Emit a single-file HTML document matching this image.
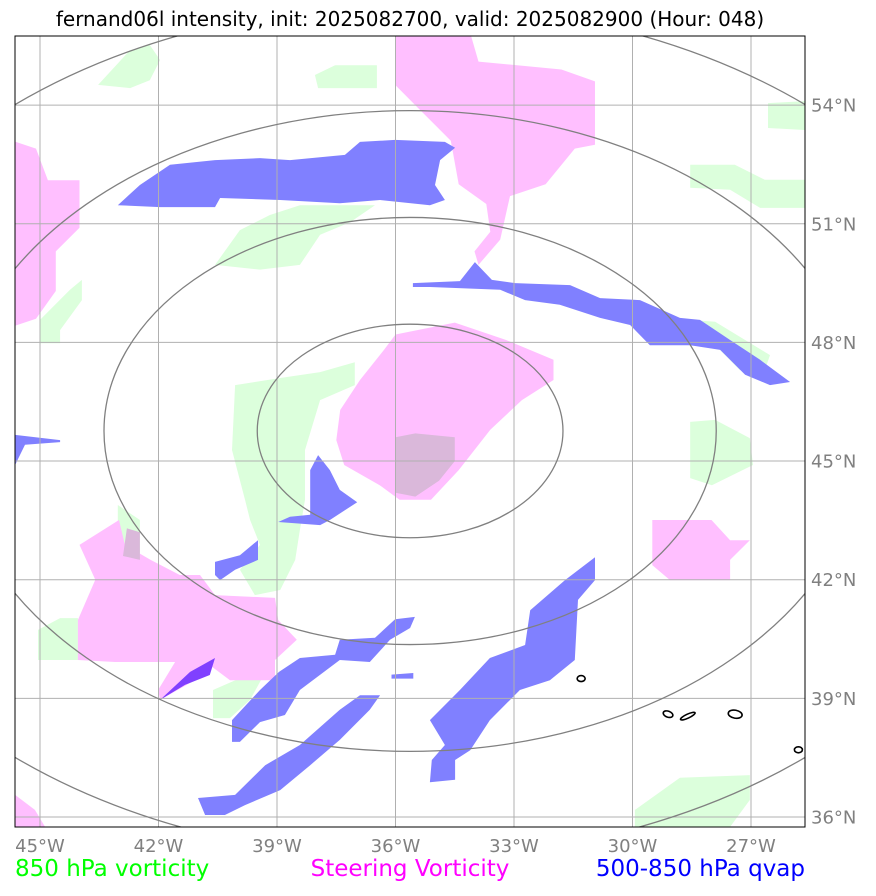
<!DOCTYPE html>
<html><head><meta charset="utf-8"><style>
body{margin:0;background:#fff;}
svg text{font-family:"DejaVu Sans","Liberation Sans",sans-serif;}
</style></head><body>
<svg id="chart" width="876" height="891" viewBox="0 0 876 891" xmlns="http://www.w3.org/2000/svg">
<rect width="876" height="891" fill="#fff"/>
<text x="410" y="26" font-size="20" text-anchor="middle" fill="#000">fernand06l intensity, init: 2025082700, valid: 2025082900 (Hour: 048)</text>
<defs><clipPath id="clip"><rect x="15" y="36" width="790" height="791"/></clipPath></defs>
<g id="layers" clip-path="url(#clip)"></g>
<rect x="15" y="36" width="790" height="791" fill="none" stroke="#000" stroke-width="1"/>
<g id="ticks"></g>
<text x="15" y="876" font-size="23" fill="#00ff00">850 hPa vorticity</text>
<text x="410" y="876" font-size="23" fill="#ff00ff" text-anchor="middle">Steering Vorticity</text>
<text x="805" y="876" font-size="23" fill="#0000ff" text-anchor="end">500-850 hPa qvap</text>
</svg>
<script>
const lonTicks=[-45,-42,-39,-36,-33,-30,-27];
const latTicks=[54,51,48,45,42,39,36];
const ringCenter=[-35.63,45.76];
const ringRadiiDeg=[[3.87,2.7],[7.75,5.4],[11.6,8.1],[15.5,10.8]];
const pinkPolys=[
[[-36.0,55.8],[-34.1,55.8],[-33.9,55.1],[-31.8,54.9],[-30.95,54.6],[-30.95,53.0],[-31.46,52.9],[-32.2,52.0],[-33.1,51.7],[-33.35,50.6],[-33.9,49.96],[-34.0,50.3],[-33.6,50.8],[-33.7,51.5],[-34.4,52.0],[-34.6,53.1],[-35.4,53.9],[-36.0,54.5]],
[[-45.7,53.1],[-45.1,52.9],[-44.8,52.1],[-44.0,52.1],[-44.0,50.9],[-44.6,50.3],[-44.6,49.3],[-45.1,48.6],[-45.7,48.4]],
[[-36.0,48.2],[-34.5,48.5],[-33.2,48.06],[-32.0,47.56],[-32.0,47.05],[-32.8,46.54],[-33.6,45.79],[-34.4,44.77],[-35.1,44.02],[-35.9,44.02],[-36.4,44.39],[-37.3,44.9],[-37.5,45.53],[-37.4,46.29],[-36.9,47.05],[-36.3,47.8]],
[[-44.0,42.88],[-43.0,43.51],[-42.85,42.88],[-42.2,42.5],[-41.46,42.12],[-40.95,42.12],[-40.57,41.61],[-39.05,41.54],[-38.97,40.98],[-38.5,40.48],[-39.05,39.97],[-39.05,39.46],[-40.19,39.46],[-40.7,39.84],[-41.08,39.46],[-41.96,38.96],[-42.01,39.21],[-41.58,39.92],[-43.1,39.92],[-44.04,39.97],[-44.04,40.98],[-43.6,42.0]],
[[-29.5,43.51],[-28.0,43.51],[-27.53,43.0],[-27.03,43.0],[-27.53,42.5],[-27.53,41.99],[-29.05,41.99],[-29.5,42.37]],
[[-45.63,36.56],[-45.13,36.18],[-44.87,35.75],[-45.63,35.75]]
];
const greenPolys=[
[[-43.53,54.51],[-42.72,55.39],[-42.22,55.52],[-41.96,55.14],[-42.22,54.63],[-42.72,54.43]],
[[-38.04,54.76],[-37.53,55.01],[-36.47,55.01],[-36.47,54.43],[-37.96,54.43]],
[[-26.57,54.05],[-25.63,54.1],[-25.63,53.37],[-26.57,53.42]],
[[-28.54,52.49],[-27.41,52.49],[-26.65,52.11],[-25.63,52.11],[-25.63,51.4],[-26.77,51.4],[-27.53,51.86],[-28.54,51.91]],
[[-40.57,49.96],[-39.94,50.84],[-39.18,51.22],[-38.42,51.47],[-36.52,51.47],[-37.15,51.04],[-37.91,50.72],[-38.42,49.96],[-39.43,49.84]],
[[-45.0,48.57],[-44.24,49.33],[-43.94,49.58],[-43.94,49.07],[-44.49,48.31],[-44.49,47.98],[-45.0,47.98]],
[[-40.06,46.92],[-38.92,47.1],[-37.91,47.25],[-37.03,47.5],[-37.03,46.92],[-37.91,46.54],[-38.29,45.28],[-38.29,44.02],[-38.42,43.26],[-38.54,42.5],[-38.92,41.74],[-39.56,41.61],[-39.94,42.25],[-39.43,42.88],[-39.68,43.51],[-39.81,44.02],[-40.14,45.28]],
[[-43.03,43.89],[-42.47,43.51],[-42.47,42.5],[-43.03,42.5]],
[[-45.05,40.73],[-44.49,41.03],[-44.04,41.03],[-44.04,39.97],[-45.05,39.97]],
[[-40.62,39.21],[-39.94,39.51],[-39.38,39.51],[-39.68,38.96],[-40.19,38.5],[-40.62,38.5]],
[[-28.54,45.99],[-27.91,46.04],[-27.03,45.58],[-26.95,44.9],[-27.99,44.39],[-28.54,44.57]],
[[-29.94,36.18],[-28.8,36.99],[-27.03,37.06],[-27.03,36.43],[-27.53,35.75],[-29.94,35.75]],
[[-28.54,48.57],[-27.91,48.52],[-26.52,47.68],[-26.65,47.3],[-27.28,47.3]]
];
const overlapPolys=[
[[-36.0,45.6],[-35.5,45.7],[-34.5,45.6],[-34.5,45.0],[-34.9,44.5],[-35.5,44.1],[-36.0,44.2]],
[[-42.8,43.3],[-42.47,43.2],[-42.47,42.5],[-42.9,42.6]]
];
const bluePolys=[
[[-43.03,51.47],[-42.47,51.98],[-41.71,52.49],[-40.57,52.61],[-39.43,52.66],[-38.67,52.61],[-37.28,52.74],[-36.9,53.07],[-36.01,53.12],[-34.75,53.07],[-34.49,52.92],[-34.87,52.61],[-35.0,51.98],[-34.75,51.6],[-35.13,51.47],[-36.39,51.6],[-37.41,51.52],[-38.92,51.6],[-40.44,51.65],[-40.57,51.42],[-41.96,51.42]],
[[-35.56,49.5],[-34.37,49.55],[-33.99,50.03],[-33.56,49.58],[-32.97,49.5],[-31.58,49.45],[-30.82,49.12],[-29.81,49.07],[-28.8,48.62],[-28.29,48.57],[-27.53,48.06],[-26.77,47.56],[-26.01,47.0],[-26.52,46.92],[-27.15,47.18],[-27.78,47.81],[-28.54,47.93],[-29.56,47.93],[-30.06,48.44],[-30.82,48.62],[-31.84,48.95],[-32.72,49.07],[-33.35,49.33],[-35.13,49.4],[-35.56,49.4]],
[[-38.16,44.77],[-37.96,45.15],[-37.66,44.77],[-37.41,44.27],[-36.97,43.96],[-37.66,43.51],[-37.91,43.38],[-38.97,43.46],[-38.67,43.59],[-38.16,43.64]],
[[-40.57,42.45],[-39.94,42.62],[-39.48,43.0],[-39.48,42.5],[-40.06,42.25],[-40.44,41.99],[-40.57,42.12]],
[[-30.95,42.57],[-30.95,41.99],[-31.38,41.49],[-31.46,39.97],[-32.09,39.46],[-32.85,39.21],[-33.61,38.45],[-34.11,37.69],[-34.49,37.44],[-34.49,36.94],[-35.13,36.88],[-35.08,37.44],[-34.75,37.82],[-35.13,38.45],[-34.37,39.21],[-33.61,40.02],[-32.72,40.35],[-32.59,41.23],[-31.71,41.99]],
[[-40.14,37.9],[-40.14,38.45],[-39.43,39.21],[-38.95,39.67],[-38.42,40.02],[-37.53,40.1],[-37.41,40.48],[-36.52,40.53],[-36.01,41.0],[-35.51,41.06],[-35.63,40.78],[-36.14,40.48],[-36.65,39.92],[-37.41,39.97],[-38.42,39.21],[-38.8,38.58],[-39.43,38.4],[-39.94,37.9]],
[[-41.0,36.48],[-40.06,36.56],[-39.3,37.31],[-38.42,37.82],[-37.41,38.71],[-36.9,39.08],[-36.39,39.08],[-36.65,38.71],[-37.41,37.95],[-38.16,37.31],[-38.92,36.68],[-39.81,36.3],[-40.32,36.05],[-40.82,36.05]],
[[-45.63,45.66],[-44.49,45.53],[-44.49,45.48],[-45.38,45.41],[-45.63,44.9]],
[[-36.1,39.6],[-35.55,39.64],[-35.55,39.5],[-36.1,39.5]]
];
const purplePolys=[
[[-41.96,38.96],[-41.2,39.67],[-40.57,40.02],[-40.7,39.59],[-41.33,39.34]]
];
const blackContours=[[-31.3,39.5,4,3,0],[-29.1,38.6,5,3,20],[-28.6,38.55,8,2,-25],[-27.4,38.6,7,4,10],[-25.8,37.7,4,3,0]];

const X=lon=>40+(lon+45)*39.5;
const Y=lat=>817-(lat-36)*39.55;
const NS='http://www.w3.org/2000/svg';
const layers=document.getElementById('layers');
const ticks=document.getElementById('ticks');
function mk(tag,attrs,parent){const e=document.createElementNS(NS,tag);for(const k in attrs)e.setAttribute(k,attrs[k]);parent.appendChild(e);return e;}
function pts(p){return p.map(q=>X(q[0]).toFixed(1)+','+Y(q[1]).toFixed(1)).join(' ');}
function drawPolys(list,fill,name){list.forEach(p=>{const e=mk('polygon',{points:pts(p),fill:fill},layers);

});}
drawPolys(greenPolys,'#dcffdc','vorticity-850-area');
drawPolys(pinkPolys,'#ffbfff','steering-vorticity-area');
drawPolys(overlapPolys,'#dab8da','vorticity-overlap-area');
drawPolys(bluePolys,'#8080ff','qvap-area');
drawPolys(purplePolys,'#8040ff','qvap-steering-overlap');
lonTicks.forEach(l=>{const e=mk('line',{x1:X(l),x2:X(l),y1:36,y2:827,stroke:'#b0b0b0','stroke-width':1},layers);


const t=mk('text',{x:X(l),y:852,'font-size':18,fill:'#808080','text-anchor':'middle'},ticks);t.textContent=(-l)+'°W';

});
latTicks.forEach(l=>{const e=mk('line',{x1:15,x2:805,y1:Y(l),y2:Y(l),stroke:'#b0b0b0','stroke-width':1},layers);


const t=mk('text',{x:811,y:Y(l)+6.5,'font-size':18,fill:'#808080'},ticks);t.textContent=l+'°N';

});
ringRadiiDeg.forEach(r=>{const e=mk('ellipse',{cx:X(ringCenter[0]),cy:Y(ringCenter[1]),rx:r[0]*39.5,ry:r[1]*39.55,fill:'none',stroke:'#808080','stroke-width':1.3},layers);

});
blackContours.forEach(c=>{const e=mk('ellipse',{cx:X(c[0]),cy:Y(c[1]),rx:c[2],ry:c[3],fill:'none',stroke:'#000','stroke-width':1.6,transform:'rotate('+c[4]+' '+X(c[0])+' '+Y(c[1])+')'},layers);

});
</script>
</body></html>
